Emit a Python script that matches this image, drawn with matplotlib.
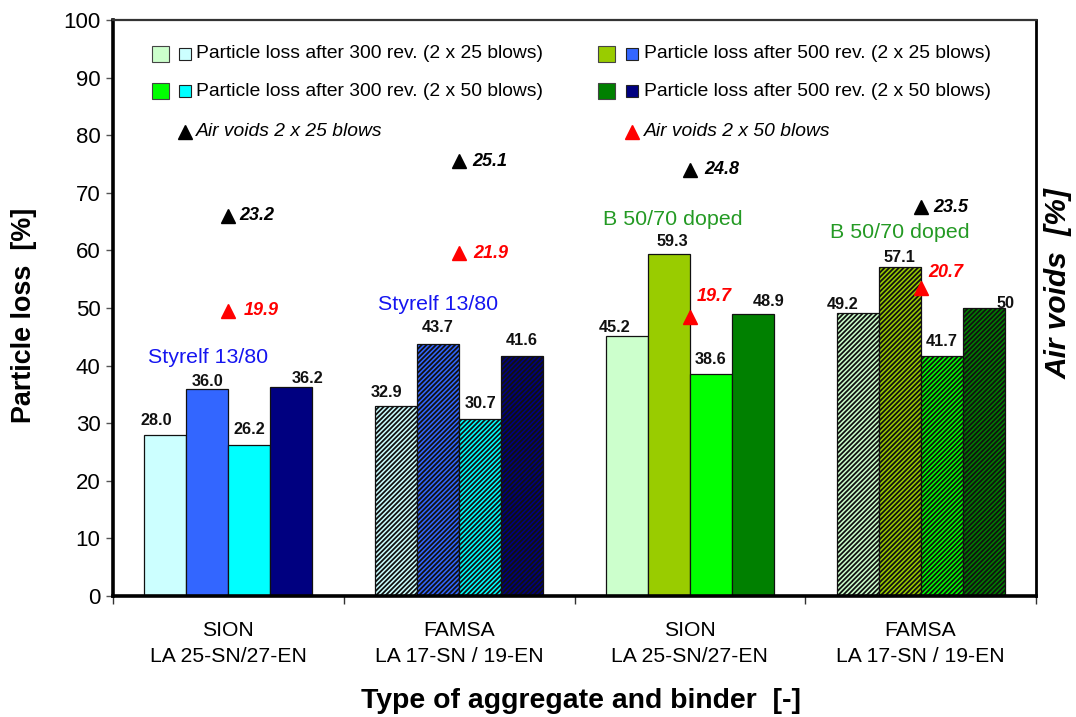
import matplotlib
matplotlib.use("Agg")
import matplotlib.pyplot as plt
from matplotlib.patches import Rectangle
from matplotlib.lines import Line2D
import numpy as np

plt.rcParams['font.family'] = ['Liberation Sans', 'DejaVu Sans']
plt.rcParams['hatch.linewidth'] = 1.3

# ---------------- data ----------------
groups = ["SION\nLA 25-SN/27-EN", "FAMSA\nLA 17-SN / 19-EN",
          "SION\nLA 25-SN/27-EN", "FAMSA\nLA 17-SN / 19-EN"]
loss_300_25 = [28.0, 32.9, 45.2, 49.2]
loss_500_25 = [36.0, 43.7, 59.3, 57.1]
loss_300_50 = [26.2, 30.7, 38.6, 41.7]
loss_500_50 = [36.2, 41.6, 48.9, 50.0]
bar_text = [["28.0", "32.9", "45.2", "49.2"],
            ["36.0", "43.7", "59.3", "57.1"],
            ["26.2", "30.7", "38.6", "41.7"],
            ["36.2", "41.6", "48.9", "50"]]
air_voids_25 = [23.2, 25.1, 24.8, 23.5]
air_voids_50 = [19.9, 21.9, 19.7, 20.7]
binder_labels = ["Styrelf 13/80", "Styrelf 13/80", "B 50/70 doped", "B 50/70 doped"]
binder_pos = [(-0.09, 40.45), (0.908, 49.65), (1.927, 64.4), (2.91, 62.15)]

series = [loss_300_25, loss_500_25, loss_300_50, loss_500_50]
colors = [["#CCFFFF", "#CCFFFF", "#CCFFCC", "#CCFFCC"],
          ["#3366FF", "#3366FF", "#99CC00", "#99CC00"],
          ["#00FFFF", "#00FFFF", "#00FF00", "#00FF00"],
          ["#000080", "#000080", "#008000", "#008000"]]
hatched = [False, True, False, True]

# label offsets in pixels (dx, gap above bar)
bar_lbl_off = [[(-9, 10), (-9.5, 9), (-12.5, 4), (-15, 4)],
               [(0, 3), (0, 12), (3, 8), (0, 5)],
               [(0, 11), (0, 11), (0, 10), (0, 10)],
               [(16, 4), (0, 11), (16, 8), (22, 0)]]
av25_off = [(11, 0), (13.5, 0), (14, 0), (13, 0)]
av50_off = [(15, 0), (14, 0), (7, 20), (8, 15)]

W, H = 1076, 717
fig = plt.figure(figsize=(W / 100, H / 100), dpi=100)
L, R, T, B = 113, 1036, 20, 596
ax = fig.add_axes([L / W, 1 - B / H, (R - L) / W, (B - T) / H])

x = np.arange(len(groups))
bw = 0.182
offs = [-1.5, -0.5, 0.5, 1.5]
for s, vals in enumerate(series):
    for g in range(len(groups)):
        ax.bar(x[g] + offs[s] * bw, vals[g], width=bw,
               color=colors[s][g], edgecolor="#111111", linewidth=0.9,
               hatch="///////" if hatched[g] else None, zorder=2)
        dx, dy = bar_lbl_off[s][g]
        ax.annotate(bar_text[s][g], (x[g] + offs[s] * bw, vals[g]),
                    xytext=(dx, dy), textcoords="offset pixels",
                    ha="center", va="baseline", fontsize=11.7,
                    fontweight="bold", color="#111111", zorder=4)

ax.set_xlim(-0.5, len(groups) - 0.5)
ax.set_ylim(0, 100)
ax.set_yticks(np.arange(0, 101, 10))
ax.tick_params(axis="y", labelsize=16, length=5, width=1, color="#555555",
               direction="out", pad=4)
ax.set_xticks(x)
ax.set_xticklabels(groups, fontsize=15.2, linespacing=1.45)
ax.set_xticks(np.arange(-0.5, len(groups), 1.0), minor=True)
ax.tick_params(axis="x", which="major", length=0, pad=18)
ax.tick_params(axis="x", which="minor", length=6, width=1, color="#333333",
               direction="out")

for side, lw, c in [("left", 2.6, "black"), ("bottom", 2.6, "black"),
                    ("top", 1.6, "#333333"), ("right", 2.0, "black")]:
    ax.spines[side].set_linewidth(lw)
    ax.spines[side].set_color(c)

for g in range(len(groups)):
    col = "#1515F0" if g < 2 else "#249A24"
    ax.text(binder_pos[g][0], binder_pos[g][1], binder_labels[g], ha="center",
            va="baseline", fontsize=15.4, color=col, zorder=4)

# air voids on secondary axis
ax2 = ax.twinx()
ax2.set_ylim(10, 30)
ax2.set_yticks([])
for sp in ax2.spines.values():
    sp.set_visible(False)
ax2.plot(x, air_voids_25, linestyle="none", marker="^", ms=10, color="black", zorder=5)
ax2.plot(x, air_voids_50, linestyle="none", marker="^", ms=10, color="#FF0000", zorder=5)
for g in range(len(groups)):
    ax2.annotate(f"{air_voids_25[g]:.1f}", (x[g], air_voids_25[g]),
                 xytext=av25_off[g], textcoords="offset pixels", ha="left",
                 va="center", fontsize=13, fontweight="bold", fontstyle="italic",
                 color="black")
    ax2.annotate(f"{air_voids_50[g]:.1f}", (x[g], air_voids_50[g]),
                 xytext=av50_off[g], textcoords="offset pixels", ha="left",
                 va="center", fontsize=13, fontweight="bold", fontstyle="italic",
                 color="#FF0000")

# ---------------- legend (drawn manually) ----------------
def fx(px):
    return px / W

def fy(py):
    return 1 - py / H

leg_rows = [
    (54, 152, "#CCFFCC", 179, "#CCFFFF", 196, "Particle loss after 300 rev. (2 x 25 blows)"),
    (91, 152, "#00FF00", 179, "#00FFFF", 196, "Particle loss after 300 rev. (2 x 50 blows)"),
    (54, 598, "#99CC00", 626, "#3366FF", 644, "Particle loss after 500 rev. (2 x 25 blows)"),
    (91, 598, "#008000", 626, "#000080", 644, "Particle loss after 500 rev. (2 x 50 blows)"),
]
for yc, bx, bc, sx, sc, tx, txt in leg_rows:
    fig.patches.append(Rectangle((fx(bx), fy(yc + 8)), 17 / W, 16 / H,
                                 transform=fig.transFigure, facecolor=bc,
                                 edgecolor="#444444", linewidth=0.8))
    fig.patches.append(Rectangle((fx(sx), fy(yc + 6)), 12 / W, 12 / H,
                                 transform=fig.transFigure, facecolor=sc,
                                 edgecolor="#222222", linewidth=0.8))
    fig.text(fx(tx), fy(yc), txt, ha="left", va="center", fontsize=13.9)

for mx, col, tx, txt in [(185, "black", 196, "Air voids 2 x 25 blows"),
                         (632, "#FF0000", 644, "Air voids 2 x 50 blows")]:
    fig.add_artist(Line2D([fx(mx)], [fy(132)], marker="^", ms=10, color=col,
                          linestyle="none", transform=fig.transFigure))
    fig.text(fx(tx), fy(132), txt, ha="left", va="center", fontsize=13.9,
             fontstyle="italic")

# axis titles
fig.text(fx(24), fy(315), "Particle loss  [%]", rotation=90, ha="center",
         va="center", fontsize=19.4, fontweight="bold")
fig.text(fx(1059), fy(284), "Air voids  [%]", rotation=90, ha="center",
         va="center", fontsize=21.5, fontweight="bold", fontstyle="italic")
fig.text(fx(581), fy(701), "Type of aggregate and binder  [-]", ha="center",
         va="center", fontsize=20.4, fontweight="bold")

fig.savefig("out.png", dpi=100)
